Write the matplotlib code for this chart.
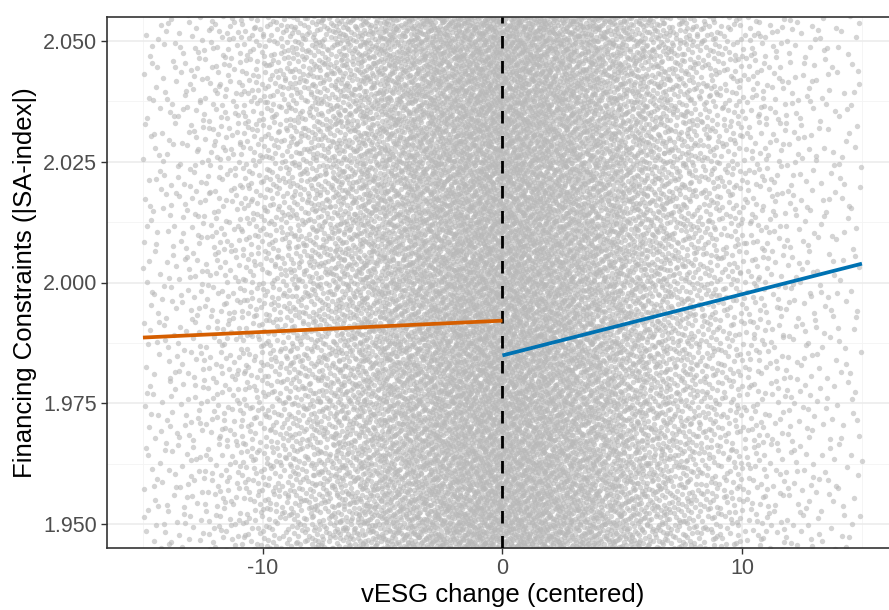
import numpy as np
import matplotlib
matplotlib.use("Agg")
import matplotlib.pyplot as plt
from matplotlib.ticker import MultipleLocator

plt.rcParams['font.family'] = ['Liberation Sans', 'DejaVu Sans']
plt.rcParams['axes.unicode_minus'] = False

# ---- data ----
# approximate number of observations per 1-unit bin of vESG change (bin left edges)
bin_left = list(range(-15, 15))
bin_counts = [100, 125, 165, 210, 275, 350, 450, 560, 700, 850,
              1000, 1150, 1300, 1450, 1550, 1550, 1450, 1320, 1170, 1000,
              830, 670, 520, 390, 290, 215, 160, 120, 92, 72]
y_span = [1.94, 2.06]

# fitted lines either side of the cutoff
left_x = [-15, 0]
left_y = [1.9886, 1.9921]
right_x = [0, 15]
right_y = [1.9849, 2.0039]

cutoff = 0
x_ticks = [-10, 0, 10]
y_ticks = [1.950, 1.975, 2.000, 2.025, 2.050]


# ---- deterministic placement: Halton sequence, x mapped through the binned counts ----
def radical_inverse(n, base):
    n = n.copy()
    out = np.zeros(n.shape, dtype=float)
    f = 1.0 / base
    while np.any(n > 0):
        out += f * (n % base)
        n //= base
        f /= base
    return out


n_total = int(sum(bin_counts))
idx = np.arange(1, n_total + 1)
u = radical_inverse(idx, 2)
v = radical_inverse(idx, 3)
edges = np.array(bin_left + [bin_left[-1] + 1], dtype=float)
cdf = np.concatenate([[0.0], np.cumsum(bin_counts)]) / n_total
xs = np.interp(u, cdf, edges)
ys = y_span[0] + v * (y_span[1] - y_span[0])

fig = plt.figure(figsize=(8.89, 6.10), dpi=100)
ax = fig.add_axes([107 / 889, 1 - 548 / 610, 1 - 107 / 889 + 0.01, (548 - 17) / 610])

ax.scatter(xs, ys, s=15, c='#B8B8B8', alpha=0.6, linewidths=0, zorder=2)
ax.axvline(cutoff, color='black', lw=2.0, dashes=(4.5, 4.5), zorder=3)
ax.plot(left_x, left_y, color='#D55E00', lw=2.7, zorder=4, solid_capstyle='butt')
ax.plot(right_x, right_y, color='#0072B2', lw=2.7, zorder=4, solid_capstyle='butt')

ax.set_xlim(-16.5, 16.5)
ax.set_ylim(1.94503, 2.05497)
ax.set_xticks(x_ticks)
ax.set_yticks(y_ticks)
ax.set_yticklabels([f"{t:.3f}" for t in y_ticks])
ax.xaxis.set_minor_locator(MultipleLocator(5))
ax.yaxis.set_minor_locator(MultipleLocator(0.0125))

ax.grid(True, which='major', color='#EBEBEB', lw=1.1, zorder=0)
ax.grid(True, which='minor', color='#F4F4F4', lw=0.6, zorder=0)
ax.set_axisbelow(True)
ax.tick_params(which='minor', length=0)
ax.tick_params(which='major', length=4, width=1, color='#333333',
               labelcolor='#4D4D4D', labelsize=15.5, pad=3)
for sp in ax.spines.values():
    sp.set_color('#333333')
    sp.set_linewidth(1.2)

ax.set_xlabel('vESG change (centered)', fontsize=18.5, color='black', labelpad=3)
ax.set_ylabel('Financing Constraints (|SA-index|)', fontsize=18.5, color='black', labelpad=4)

fig.savefig('out.png', dpi=100)
